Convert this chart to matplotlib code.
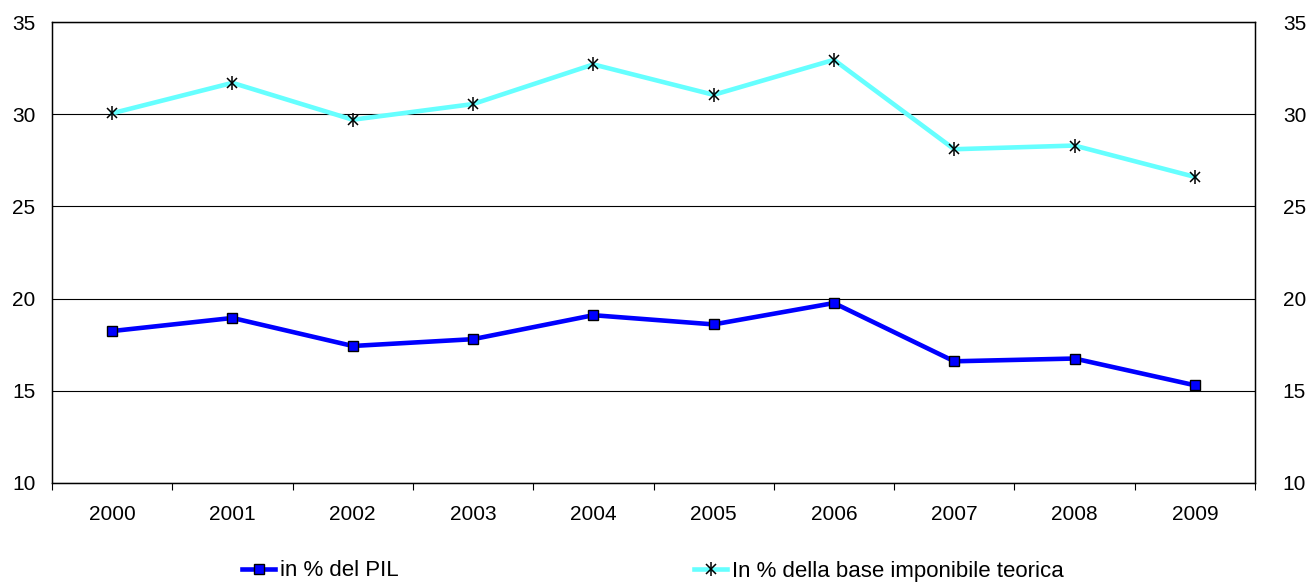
import matplotlib.pyplot as plt
from matplotlib.lines import Line2D
from matplotlib.legend_handler import HandlerTuple

years = ['2000', '2001', '2002', '2003', '2004', '2005', '2006', '2007', '2008', '2009']
pil = [18.24, 18.95, 17.43, 17.8, 19.1, 18.6, 19.76, 16.6, 16.75, 15.3]
base_teorica = [30.05, 31.7, 29.7, 30.55, 32.7, 31.05, 32.95, 28.1, 28.3, 26.6]

plt.rcParams['font.family'] = ['Liberation Sans', 'DejaVu Sans']
plt.rcParams['font.size'] = 15

fig = plt.figure(figsize=(13.09, 5.86), dpi=100)
ax = fig.add_axes([52 / 1309, 1 - 483 / 586, (1255 - 52) / 1309, (483 - 22) / 586])

x = list(range(len(years)))
ax.plot(x, base_teorica, color='#66FFFF', lw=3.3, zorder=3)
ax.plot(x, base_teorica, ls='none', marker='x', ms=7, mec='black', mew=1.1, zorder=4)
ax.plot(x, base_teorica, ls='none', marker='|', ms=10, mec='black', mew=1.1, zorder=4)
ax.plot(x, pil, color='#0000FF', lw=3.3, marker='s', ms=7, mfc='#0000FF', mec='black', mew=1, zorder=4)

ax.set_xlim(-0.5, len(years) - 0.5)
ax.set_ylim(10, 35)
ax.set_yticks([10, 15, 20, 25, 30, 35])
ax.yaxis.grid(True, color='black', lw=0.8)
ax.set_axisbelow(True)

# tick marks between categories, labels centred
ax.set_xticks([i - 0.5 for i in range(len(years) + 1)])
ax.set_xticklabels([])
ax.set_xticks(x, minor=True)
ax.set_xticklabels(years, minor=True)
ax.tick_params(axis='x', which='major', length=5, direction='out', width=0.8)
ax.tick_params(axis='x', which='minor', length=0, pad=16)
ax.tick_params(axis='y', length=0, pad=12)

for s in ax.spines.values():
    s.set_linewidth(1)
    s.set_color('black')

ax2 = ax.twinx()
ax2.set_ylim(10, 35)
ax2.set_yticks([10, 15, 20, 25, 30, 35])
ax2.tick_params(axis='y', length=0, pad=20)

h1 = Line2D([], [], color='#0000FF', lw=3.3, marker='s', ms=7, mfc='#0000FF', mec='black', mew=1)
h2a = Line2D([], [], color='#66FFFF', lw=3.3)
h2b = Line2D([], [], ls='none', marker='x', ms=7, mec='black', mew=1.1)
h2c = Line2D([], [], ls='none', marker='|', ms=10, mec='black', mew=1.1)
fig.legend([h1], ['in % del PIL'], loc='center left', bbox_to_anchor=(242 / 1309, 1 - 571 / 586),
           frameon=False, handlelength=1.5, handletextpad=0.22, borderpad=0, borderaxespad=0,
           fontsize=16)
fig.legend([(h2a, h2b, h2c)], ['In % della base imponibile teorica'], loc='center left',
           bbox_to_anchor=(694 / 1309, 1 - 571 / 586),
           handler_map={tuple: HandlerTuple(ndivide=1, pad=0)},
           frameon=False, handlelength=1.5, handletextpad=0.22, borderpad=0, borderaxespad=0,
           fontsize=16)

fig.savefig('out.png', dpi=100)
